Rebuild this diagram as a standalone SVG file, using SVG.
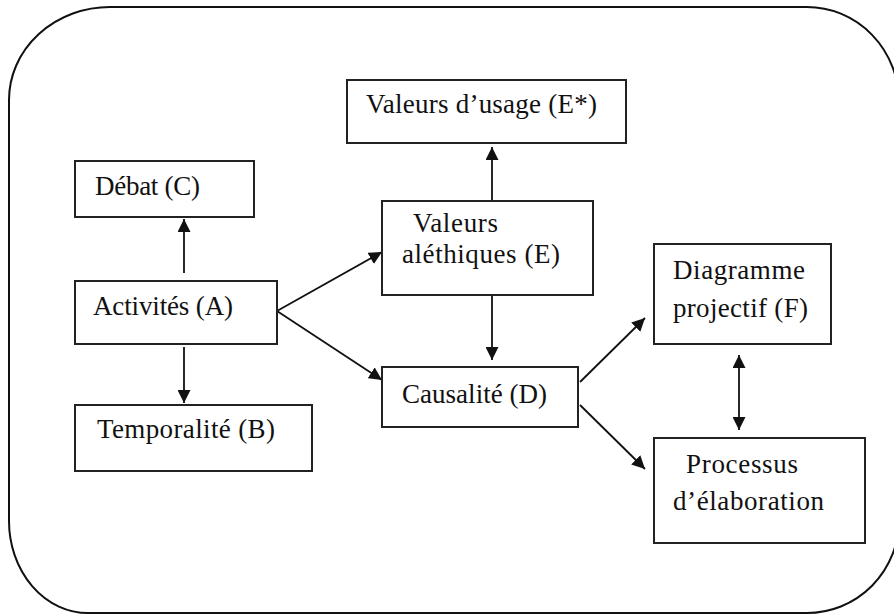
<svg xmlns="http://www.w3.org/2000/svg" width="894" height="615" viewBox="0 0 894 615">
<defs>
<style>
.box{fill:#fff;stroke:#222;stroke-width:2}
.frame{fill:none;stroke:#111;stroke-width:2}
.t{font-family:"Liberation Serif","DejaVu Serif",serif;font-size:27px;fill:#111}
.c{stroke:#111;stroke-width:1.8;fill:none}
</style>
<marker id="ah" viewBox="0 0 12 12" refX="12" refY="6" markerWidth="13" markerHeight="13" markerUnits="userSpaceOnUse" orient="auto-start-reverse">
<path d="M0,0 L12,6 L0,12 Z" fill="#111"/>
</marker>
</defs>
<rect width="894" height="615" fill="#fff"/>
<path class="frame" d="M110,7 H807 A92 95 0 0 1 899 102 V520 A92 93 0 0 1 807 613 H88 A79 92 0 0 1 9 521 V100 A101 93 0 0 1 110 7 Z"/>
<g id="connectors">
<line class="c" x1="184" y1="273" x2="184" y2="219" marker-end="url(#ah)"/>
<line class="c" x1="184" y1="347" x2="184" y2="403" marker-end="url(#ah)"/>
<line class="c" x1="277" y1="311" x2="382" y2="252" marker-end="url(#ah)"/>
<line class="c" x1="277" y1="311" x2="382" y2="380" marker-end="url(#ah)"/>
<line class="c" x1="492" y1="201" x2="492" y2="147" marker-end="url(#ah)"/>
<line class="c" x1="492" y1="295" x2="492" y2="360" marker-end="url(#ah)"/>
<line class="c" x1="580" y1="382" x2="645" y2="318" marker-end="url(#ah)"/>
<line class="c" x1="580" y1="405" x2="645" y2="469" marker-end="url(#ah)"/>
<line class="c" x1="739" y1="355" x2="739" y2="430" marker-start="url(#ah)" marker-end="url(#ah)"/>
</g>
<g id="nodeC"><rect class="box" x="75" y="161" width="179" height="56"/><text class="t" x="95" y="195" textLength="105">Débat (C)</text></g>
<g id="nodeA"><rect class="box" x="75" y="281" width="202" height="63"/><text class="t" x="93" y="315" textLength="140">Activités (A)</text></g>
<g id="nodeB"><rect class="box" x="75" y="405" width="237" height="66"/><text class="t" x="97" y="438" textLength="178">Temporalité (B)</text></g>
<g id="nodeEstar"><rect class="box" x="347" y="80" width="279" height="63"/><text class="t" x="366" y="113" textLength="231">Valeurs d’usage (E*)</text></g>
<g id="nodeE"><rect class="box" x="382" y="201" width="211" height="94"/><text class="t" x="413" y="232" textLength="85">Valeurs</text><text class="t" x="402" y="263" textLength="158">aléthiques (E)</text></g>
<g id="nodeD"><rect class="box" x="382" y="367" width="196" height="60"/><text class="t" x="402" y="403" textLength="145">Causalité (D)</text></g>
<g id="nodeF"><rect class="box" x="654" y="244" width="177" height="100"/><text class="t" x="673" y="279" textLength="132">Diagramme</text><text class="t" x="673" y="317" textLength="135">projectif (F)</text></g>
<g id="nodeP"><rect class="box" x="654" y="438" width="211" height="105"/><text class="t" x="686" y="473" textLength="112">Processus</text><text class="t" x="673" y="510" textLength="151">d’élaboration</text></g>
</svg>
